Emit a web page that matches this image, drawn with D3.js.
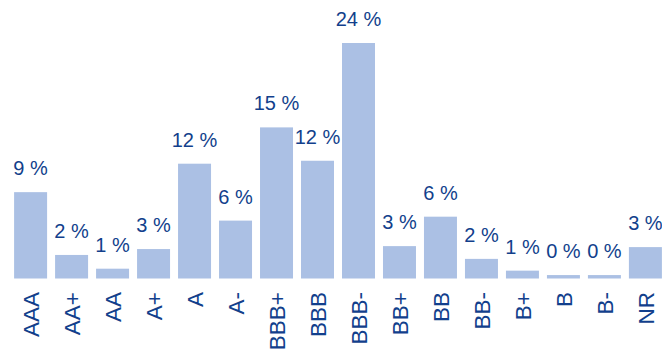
<!DOCTYPE html>
<html>
<head>
<meta charset="utf-8">
<style>
body { margin: 0; background: #fff; }
svg { display: block; }
</style>
</head>
<body>
<script src="https://d3js.org/d3.v7.min.js"></script>
<script>
var ratings = ["AAA", "AA+", "AA", "A+", "A", "A-", "BBB+", "BBB", "BBB-", "BB+", "BB", "BB-", "B+", "B", "B-", "NR"];
var shares = [8.8, 2.4, 1.0, 3.0, 11.7, 5.9, 15.4, 12.0, 24.0, 3.3, 6.3, 2.0, 0.8, 0.35, 0.35, 3.2];
var labels = ["9 %", "2 %", "1 %", "3 %", "12 %", "6 %", "15 %", "12 %", "24 %", "3 %", "6 %", "2 %", "1 %", "0 %", "0 %", "3 %"];

var width = 662, height = 352;
var baseline = 278.5;

var svg = d3.select("body").append("svg")
  .attr("width", width)
  .attr("height", height);

var x = d3.scaleBand()
  .domain(ratings)
  .range([10, 666])
  .paddingInner(0.195)
  .paddingOuter(0.1);

var y = d3.scaleLinear()
  .domain([0, 24])
  .range([baseline, 43]);

var blue = "#123f8c";

svg.append("g").selectAll("rect")
  .data(ratings)
  .enter().append("rect")
  .attr("x", function(d) { return x(d); })
  .attr("width", x.bandwidth())
  .attr("y", function(d, i) { return y(shares[i]); })
  .attr("height", function(d, i) { return baseline - y(shares[i]); })
  .attr("fill", "#abc0e4");

svg.append("g").selectAll("text")
  .data(ratings)
  .enter().append("text")
  .attr("x", function(d) { return x(d) + x.bandwidth() / 2; })
  .attr("y", function(d, i) { return y(shares[i]) - 17; })
  .attr("text-anchor", "middle")
  .style("font-family", "Liberation Sans, Arial, sans-serif")
  .style("font-size", "20px")
  .style("fill", blue)
  .text(function(d, i) { return labels[i]; });

// category labels, rotated
svg.append("g").selectAll("text")
  .data(ratings)
  .enter().append("text")
  .attr("transform", function(d) {
    return "translate(" + (x(d) + x.bandwidth() / 2 + 0.5) + "," + 292 + ") rotate(-90)";
  })
  .attr("dy", "0.36em")
  .attr("text-anchor", "end")
  .style("font-family", "Liberation Sans, Arial, sans-serif")
  .style("font-size", "22.5px")
  .style("fill", blue)
  .text(function(d) { return d; });
</script>
</body>
</html>
